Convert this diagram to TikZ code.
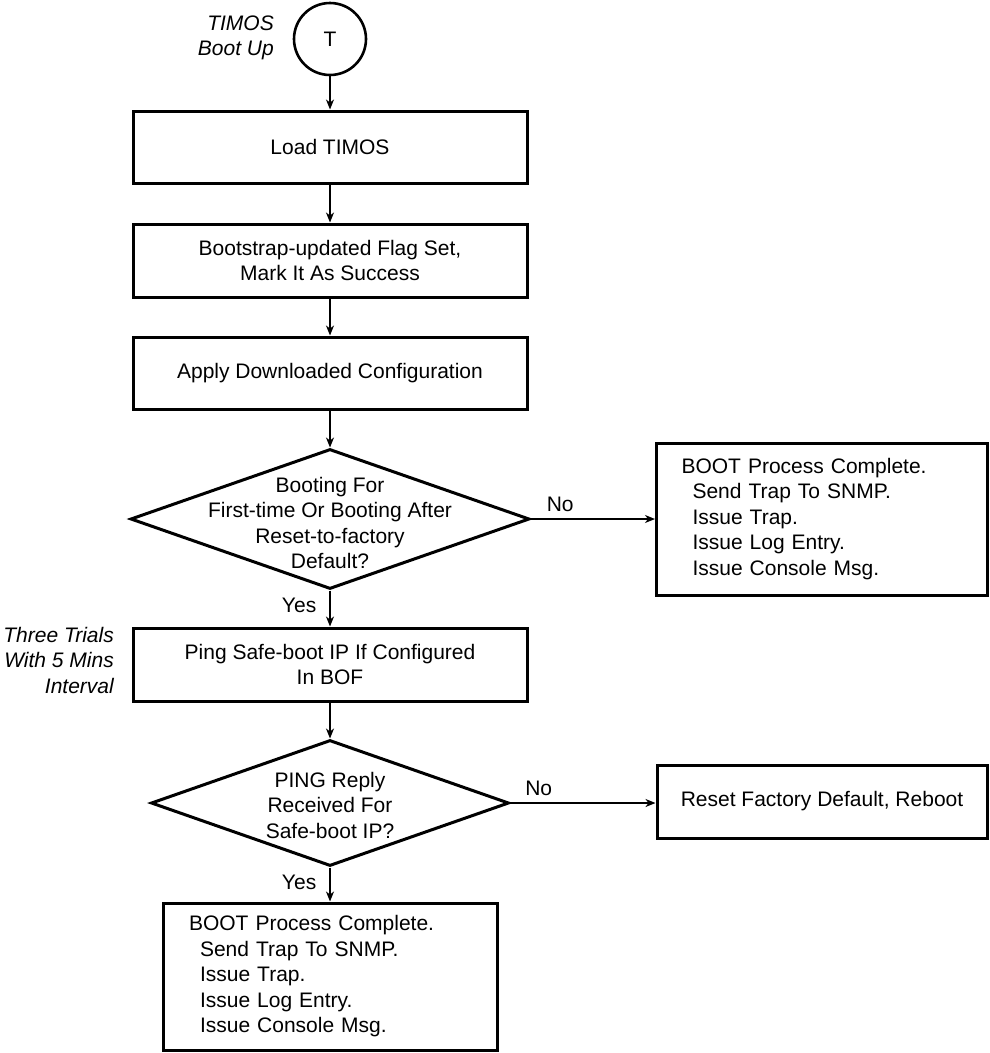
\documentclass[tikz,border=0pt]{standalone}
\usepackage{fontspec}
\setmainfont{Liberation Sans}
\usetikzlibrary{shapes.geometric,arrows.meta}
\begin{document}
\begin{tikzpicture}[x=1pt,y=1pt,
  every node/.style={font=\fontsize{21}{25.5}\selectfont},
  box/.style={draw, line width=3pt, inner sep=0pt, align=center, minimum width=394pt, minimum height=72pt},
  listbox/.style={draw, line width=3pt, inner ysep=0pt, align=left},
  dia/.style={draw, diamond, line width=3pt, inner sep=0pt},
  arr/.style={line width=1.5pt, -{Stealth[length=10pt,width=8pt,inset=3pt]}},
  lbl/.style={inner sep=0pt},
  note/.style={font=\fontsize{21}{25.5}\selectfont\itshape, align=right, inner sep=0pt},
]
\useasboundingbox (0,0) rectangle (989,-1053);

\node[draw, circle, line width=2.6pt, minimum size=72pt, inner sep=0pt] (T) at (330,-39) {T};
\node[note, anchor=east] (tb) at (274,-38) {TIMOS\\Boot Up};

\node[box] (load) at (330,-147) {Load TIMOS};
\node[box, minimum height=73pt] (boot) at (330,-260.5) {Bootstrap-updated Flag Set,\\Mark It As Success};
\node[box] (apply) at (330,-373) {Apply Downloaded Configuration};

\node[dia, minimum width=399pt, minimum height=140pt] (d1) at (330,-519) {};
\node[align=center, inner sep=0pt] (d1t) at (330,-523) {Booting For\\First-time Or Booting After\\Reset-to-factory\\Default?};

\node[listbox, minimum height=152pt, inner xsep=25pt, text width=281pt] (r1) at (822,-519)
  {BOOT Process Complete.\\\hspace*{11pt}Send Trap To SNMP.\\\hspace*{11pt}Issue Trap.\\\hspace*{11pt}Issue Log Entry.\\\hspace*{11pt}Issue Console Msg.};

\node[box, minimum height=73pt] (ping) at (330,-664.5) {Ping Safe-boot IP If Configured\\In BOF};
\node[note, anchor=east] (tt) at (114,-660) {Three Trials\\With 5 Mins\\Interval};

\node[dia, minimum width=358pt, minimum height=126pt] (d2) at (330,-803) {};
\node[align=center, inner sep=0pt] (d2t) at (330,-805) {PING Reply\\Received For\\Safe-boot IP?};

\node[box, minimum width=330pt, minimum height=73pt] (reset) at (822,-801.5) {Reset Factory Default, Reboot};

\node[listbox, minimum height=147pt, inner xsep=26pt, text width=282pt] (fin) at (330,-976.5)
  {BOOT Process Complete.\\\hspace*{11pt}Send Trap To SNMP.\\\hspace*{11pt}Issue Trap.\\\hspace*{11pt}Issue Log Entry.\\\hspace*{11pt}Issue Console Msg.};

\draw[arr] (T) -- (load);
\draw[arr] (load) -- (boot);
\draw[arr] (boot) -- (apply);
\draw[arr] (apply) -- (d1);
\draw[arr] (d1.south) -- node[lbl, anchor=east, xshift=-13pt, pos=0.4] (y1) {Yes} (ping.north);
\draw[arr] (d1.east) -- node[lbl, anchor=base west, pos=0, xshift=15pt, yshift=8pt] (n1) {No} (r1.west);
\draw[arr] (ping) -- (d2);
\draw[arr] (d2.east) -- node[lbl, anchor=base west, pos=0, xshift=14pt, yshift=8pt] (n2) {No} (d2.east -| reset.west);
\draw[arr] (d2.south) -- node[lbl, anchor=east, xshift=-13pt, pos=0.45] (y2) {Yes} (fin.north);
\end{tikzpicture}
\end{document}
